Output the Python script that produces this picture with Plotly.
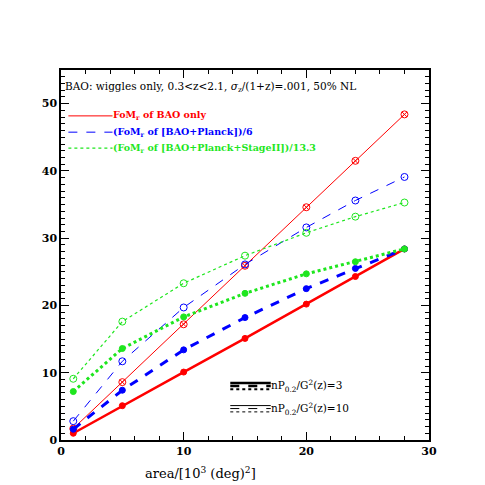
import plotly.graph_objects as go

area = [1, 5, 10, 15, 20, 24, 28]

# nP/G^2 = 10 (thin lines, open markers)
bao_10 = [1.7, 8.6, 17.2, 25.9, 34.6, 41.5, 48.4]
planck_10 = [2.8, 11.7, 19.7, 26.1, 31.6, 35.6, 39.1]
stage2_10 = [9.1, 17.6, 23.3, 27.4, 30.8, 33.2, 35.3]

# nP/G^2 = 3 (thick lines, filled markers)
bao_3 = [1.0, 5.1, 10.1, 15.1, 20.2, 24.3, 28.4]
planck_3 = [1.6, 7.4, 13.4, 18.2, 22.5, 25.5, 28.4]
stage2_3 = [7.2, 13.6, 18.3, 21.8, 24.7, 26.5, 28.4]

RED = "#ff0000"
BLUE = "#0000ff"
GREEN = "#1ee61e"
FONT = "DejaVu Serif"

fig = go.Figure()

def add(y, color, dash, width, symbol, msize):
    fig.add_trace(go.Scatter(
        x=area, y=y, mode="lines+markers",
        line=dict(color=color, dash=dash, width=width),
        marker=dict(symbol=symbol, size=msize, color=color,
                    line=dict(color=color, width=1)),
        showlegend=False))

add(bao_10, RED, "solid", 1, "circle-x-open", 7)
add(planck_10, BLUE, "dash", 1, "circle-open", 7)
add(stage2_10, GREEN, "dot", 1.2, "circle-open", 7)
add(bao_3, RED, "solid", 2.5, "circle", 6)
add(planck_3, BLUE, "dash", 3, "circle", 6)
add(stage2_3, GREEN, "dot", 3, "circle", 6)

axis_common = dict(
    showgrid=False, zeroline=False, showline=True, linecolor="black",
    linewidth=1.5, mirror="allticks", ticks="inside", ticklen=8,
    tickcolor="black", tickwidth=1,
    tickfont=dict(family=FONT, size=11, color="black", weight="bold"),
)
fig.update_xaxes(range=[0, 30], dtick=10,
                 minor=dict(ticks="inside", dtick=2, ticklen=4, tickcolor="black"),
                 **axis_common)
fig.update_yaxes(range=[0, 55], dtick=10,
                 minor=dict(ticks="inside", dtick=1, ticklen=4, tickcolor="black"),
                 **axis_common)

# legend samples in axis-domain coordinates
def seg(x0, x1, y, color, dash, width):
    fig.add_shape(type="line", xref="x domain", yref="y domain",
                  x0=x0, x1=x1, y0=y, y1=y,
                  line=dict(color=color, dash=dash, width=width))

def txt(x, y, s, color, size=10.5, weight="normal"):
    fig.add_annotation(xref="x domain", yref="y domain", x=x, y=y, text=s,
                       showarrow=False, xanchor="left", yanchor="middle",
                       font=dict(family=FONT, size=size, color=color, weight=weight))

txt(0.005, 0.953, "BAO: wiggles only, 0.3&lt;z&lt;2.1, <i>σ</i><sub>z</sub>/(1+z)=.001, 50% NL", "black", 10.5)

seg(0.02, 0.14, 0.876, RED, "solid", 1)
txt(0.135, 0.876, "FoM<sub>r</sub> of BAO only", RED, 9.5, "bold")
seg(0.02, 0.14, 0.832, BLUE, "dash", 1)
txt(0.135, 0.832, "(FoM<sub>r</sub> of [BAO+Planck])/6", BLUE, 9.5, "bold")
seg(0.02, 0.14, 0.789, GREEN, "dot", 1.2)
txt(0.135, 0.789, "(FoM<sub>r</sub> of [BAO+Planck+StageII])/13.3", GREEN, 9.5, "bold")

seg(0.46, 0.57, 0.154, "black", "solid", 2.5)
seg(0.46, 0.57, 0.146, "black", "dash", 2.5)
seg(0.46, 0.57, 0.137, "black", "dot", 2)
txt(0.565, 0.146, "nP<sub>0.2</sub>/G<sup>2</sup>(z)=3", "black", 10.5)
seg(0.46, 0.57, 0.093, "black", "solid", 1)
seg(0.46, 0.57, 0.085, "black", "dash", 1)
seg(0.46, 0.57, 0.076, "black", "dot", 1)
txt(0.565, 0.085, "nP<sub>0.2</sub>/G<sup>2</sup>(z)=10", "black", 10.5)

fig.add_annotation(xref="paper", yref="paper", x=0.378, y=-0.09,
                   text="area/[10<sup>3</sup> (deg)<sup>2</sup>]",
                   showarrow=False, xanchor="center", yanchor="middle",
                   font=dict(family=FONT, size=13, color="black"))

fig.update_layout(
    width=485, height=485,
    margin=dict(l=53, r=64, t=62, b=53),
    paper_bgcolor="white", plot_bgcolor="white",
    font=dict(family=FONT, color="black"),
)

fig.write_html("out.html")
